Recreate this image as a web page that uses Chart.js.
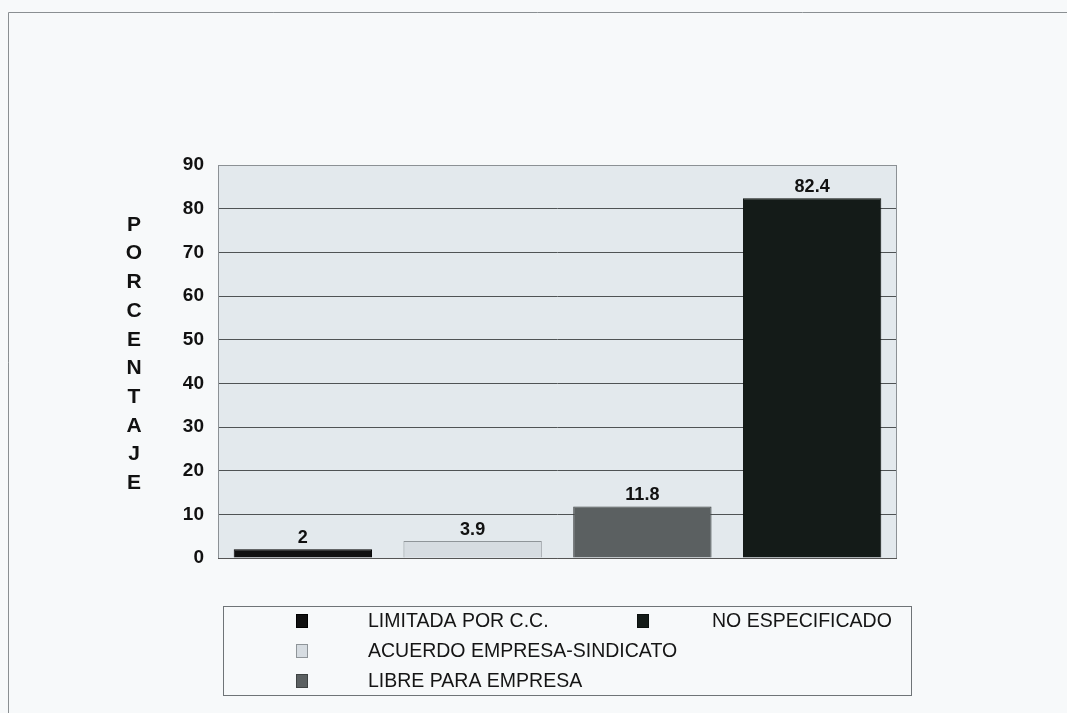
<!DOCTYPE html>
<html><head><meta charset="utf-8">
<script src="https://cdn.jsdelivr.net/npm/chart.js@4/dist/chart.umd.min.js"></script>
<style>html,body{margin:0;padding:0;background:#f7f9fa;}#wrap{position:relative;width:1067px;height:713px;}</style>
</head><body><div id="wrap"><canvas id="c" width="1067" height="713"></canvas></div>
<script>
const categories = ['LIMITADA POR C.C.', 'ACUERDO EMPRESA-SINDICATO', 'LIBRE PARA EMPRESA', 'NO ESPECIFICADO'];
const values = [2, 3.9, 11.8, 82.4];
const barColors = ['#101010', '#d6dce1', '#5b6061', '#141b18'];
const barBorders = ['#000000', '#8f9599', '#3f4343', '#0b100e'];
const yTicks = [0, 10, 20, 30, 40, 50, 60, 70, 80, 90];
const yTitle = 'PORCENTAJE';
const legendOrder = [0, 1, 2, 3];

const FONT = "'Liberation Sans', Arial, sans-serif";

const bgPlugin = {
  id: 'bg',
  beforeDraw(chart) {
    const ctx = chart.ctx, a = chart.chartArea;
    ctx.save();
    ctx.fillStyle = '#f7f9fa';
    ctx.fillRect(0, 0, chart.width, chart.height);
    ctx.strokeStyle = '#8a8f92';
    ctx.lineWidth = 1;
    ctx.beginPath();
    ctx.moveTo(8.5, chart.height); ctx.lineTo(8.5, 12.5); ctx.lineTo(chart.width, 12.5);
    ctx.stroke();
    ctx.fillStyle = '#e3e9ed';
    ctx.fillRect(a.left, a.top, a.right - a.left, a.bottom - a.top);
    ctx.restore();
  },
  beforeDatasetsDraw(chart) {
    const ctx = chart.ctx, a = chart.chartArea;
    ctx.save();
    ctx.strokeStyle = '#8c9195';
    ctx.lineWidth = 1;
    ctx.strokeRect(Math.round(a.left) + 0.5, Math.round(a.top) + 0.5, Math.round(a.right - a.left) - 1, Math.round(a.bottom - a.top));
    ctx.strokeStyle = '#555';
    ctx.beginPath();
    ctx.moveTo(a.left, Math.round(a.bottom) + 0.5); ctx.lineTo(a.right, Math.round(a.bottom) + 0.5);
    ctx.stroke();
    ctx.restore();
  },
  afterDatasetsDraw(chart) {
    const ctx = chart.ctx;
    const meta = chart.getDatasetMeta(0);
    ctx.save();
    ctx.font = 'bold 18px ' + FONT;
    ctx.fillStyle = '#111';
    ctx.textAlign = 'center';
    ctx.textBaseline = 'bottom';
    meta.data.forEach((el, i) => {
      ctx.fillText(String(values[i]), el.x, el.y - 2);
    });
    ctx.restore();
  },
  afterDraw(chart) {
    const ctx = chart.ctx, a = chart.chartArea;
    ctx.save();
    // vertical stacked y title
    ctx.font = 'bold 21px ' + FONT;
    ctx.fillStyle = '#111';
    ctx.textAlign = 'center';
    ctx.textBaseline = 'middle';
    const letters = yTitle.split('');
    letters.forEach((ch, i) => ctx.fillText(ch, a.left - 84, a.top + 60 + i * 28.7));
    // legend
    ctx.strokeStyle = '#6f7477';
    ctx.lineWidth = 1;
    ctx.strokeRect(223.5, 606.5, 688, 89);
    ctx.font = '19.5px ' + FONT;
    ctx.textAlign = 'left';
    const rows = 3;
    legendOrder.forEach((idx, k) => {
      const col = Math.floor(k / rows), row = k % rows;
      const sx = col === 0 ? 296 : 637;
      const tx = col === 0 ? 368 : 712;
      const cy = 621 + row * 30;
      ctx.fillStyle = barColors[idx];
      ctx.fillRect(sx, cy - 7, 12, 14);
      ctx.strokeStyle = barBorders[idx];
      ctx.strokeRect(sx + 0.5, cy - 6.5, 11, 13);
      ctx.fillStyle = '#151515';
      ctx.fillText(categories[idx], tx, cy + 1);
    });
    ctx.restore();
  }
};

new Chart(document.getElementById('c'), {
  type: 'bar',
  data: {
    labels: categories,
    datasets: [{
      data: values,
      backgroundColor: barColors,
      borderColor: barBorders,
      borderWidth: 1,
      categoryPercentage: 1,
      barPercentage: 0.815
    }]
  },
  options: {
    responsive: false,
    animation: false,
    devicePixelRatio: 1,
    layout: { padding: { left: 0, top: 165, right: 170, bottom: 155 } },
    plugins: { legend: { display: false }, tooltip: { enabled: false } },
    scales: {
      x: { display: false },
      y: {
        min: 0, max: 90,
        afterFit(scale) { scale.width = 218; },
        afterBuildTicks(scale) { scale.ticks = yTicks.map(v => ({ value: v })); },
        ticks: { font: { family: FONT, size: 19, weight: 'bold' }, color: '#111', padding: 14 },
        grid: { color: '#4f5355', lineWidth: 1, drawTicks: false },
        border: { display: false }
      }
    }
  },
  plugins: [bgPlugin]
});
</script></body></html>
